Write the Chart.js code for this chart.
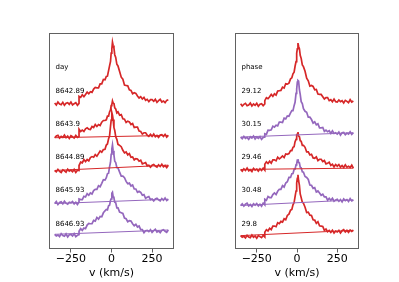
<!DOCTYPE html>
<html>
<head>
<meta charset="utf-8">
<script src="https://cdn.jsdelivr.net/npm/chart.js@4.4.1/dist/chart.umd.min.js"></script>
<style>
  html, body { margin: 0; padding: 0; background: #fff; }
  #wrap { position: relative; width: 399px; height: 282px; overflow: hidden; }
  .panel { position: absolute; top: 0; height: 282px; }
</style>
</head>
<body>
<div id="wrap">
  <div class="panel" style="left:0;width:200px"><canvas id="dayChart"></canvas></div>
  <div class="panel" style="left:200px;width:199px"><canvas id="phaseChart"></canvas></div>
</div>
<script>
// velocity grids (km/s): blue continuum piece, then the line region
const vCont = [-350,-340,-330,-320,-310,-300,-290,-280,-270,-260,-250,-240,-230,-220,-210,-200];
const vProf = [-200,-190,-180,-170,-160,-150,-140,-130,-120,-110,-100,-90,-80,-70,-60,-50,-40,
  -32,-25,-18,-12,-6,-2,2,6,10,15,20,26,33,40,
  50,60,70,80,90,100,110,120,130,140,150,160,170,180,190,200,210,220,230,240,250,260,270,280,290,300,310,320,330,340,350];

const offsets = [0, -1, -2, -3, -4];
const xTicks = [-250, 0, 250];
// top spectrum of each panel has no wrap-around segment
const hasWrap = [false, true, true, true, true];

// left panel, labelled by day
const dayLabels = ['8642.89', '8643.9', '8644.89', '8645.93', '8646.93'];
const dayColors = ['#d62728', '#d62728', '#d62728', '#9467bd', '#9467bd'];
const dayProf = [
  [1.22,1.19,1.27,1.21,1.28,1.35,1.30,1.36,1.34,1.44,1.49,1.48,1.48,1.60,1.60,1.73,1.72,
   1.82,1.83,2.0,2.14,2.28,2.53,2.65,2.86,2.76,2.68,2.48,2.4,2.19,2.14,
   1.97,1.80,1.74,1.56,1.55,1.54,1.42,1.40,1.30,1.33,1.31,1.23,1.17,1.21,1.14,1.19,1.10,1.13,1.06,1.12,1.12,1.07,1.13,1.04,1.09,1.13,1.05,1.08,1.03,1.10,1.12],
  [1.23,1.16,1.2,1.16,1.24,1.27,1.23,1.22,1.31,1.28,1.37,1.31,1.37,1.34,1.44,1.49,1.49,
   1.51,1.62,1.62,1.75,1.81,1.94,1.97,2.08,2.02,2.01,1.87,1.84,1.72,1.75,
   1.65,1.67,1.54,1.53,1.43,1.47,1.45,1.37,1.40,1.28,1.29,1.29,1.17,1.16,1.08,1.12,1.12,1.05,1.01,1.07,1.01,1.08,1.0,1.04,0.98,1.05,1.06,1.01,1.07,0.99,1.04],
  [1.13,1.23,1.21,1.31,1.25,1.31,1.27,1.37,1.40,1.38,1.46,1.41,1.49,1.57,1.53,1.61,1.62,
   1.75,1.78,1.94,2.02,2.32,2.5,2.73,2.65,2.52,2.28,2.19,2.0,1.92,1.77,
   1.74,1.70,1.59,1.51,1.54,1.45,1.49,1.38,1.39,1.30,1.34,1.33,1.26,1.29,1.18,1.20,1.22,1.12,1.14,1.08,1.14,1.16,1.11,1.08,1.15,1.10,1.17,1.09,1.13,1.07,1.14],
  [1.12,1.10,1.10,1.20,1.18,1.28,1.23,1.30,1.27,1.37,1.41,1.41,1.52,1.49,1.59,1.70,1.69,
   1.76,1.88,1.90,2.09,2.23,2.47,2.63,2.75,2.58,2.45,2.26,2.22,2.07,2.06,
   1.93,1.81,1.81,1.76,1.65,1.58,1.60,1.51,1.54,1.42,1.42,1.32,1.35,1.32,1.23,1.25,1.14,1.17,1.19,1.10,1.12,1.06,1.12,1.14,1.09,1.06,1.13,1.08,1.15,1.07,1.11],
  [1.14,1.22,1.17,1.24,1.22,1.33,1.38,1.37,1.37,1.47,1.45,1.56,1.51,1.59,1.58,1.70,1.76,
   1.80,1.79,1.91,1.93,2.08,2.12,2.29,2.32,2.19,2.15,2.02,2.0,1.85,1.85,
   1.72,1.70,1.68,1.54,1.52,1.43,1.46,1.45,1.37,1.31,1.35,1.27,1.30,1.19,1.19,1.10,1.16,1.17,1.13,1.19,1.11,1.16,1.20,1.12,1.15,1.10,1.17,1.19,1.14,1.11,1.18]
];
const dayCont = [
  [1.02,0.96,1.05,0.99,0.97,1.04,0.95,1.01,1.03,0.98,1.05,0.96,1.0,1.03,0.95,1.01],
  [0.97,1.02,1.04,0.96,1.01,0.98,1.05,0.97,1.02,0.95,1.03,1.0,0.96,1.04,0.98,1.01],
  [0.98,0.94,1.01,0.95,0.92,1.0,0.97,0.93,1.02,0.96,0.99,0.94,1.01,0.92,0.99,0.98],
  [0.98,1.04,0.95,1.01,1.03,0.97,1.05,0.99,0.96,1.02,1.0,1.04,0.97,1.02,0.95,1.03],
  [1.05,1.0,1.03,0.98,1.07,1.01,0.99,1.06,0.97,1.04,1.05,1.0,1.07,0.98,1.02,1.04]
];

// right panel, labelled by phase
const phaseLabels = ['29.12', '30.15', '29.46', '30.48', '29.8'];
const phaseColors = ['#d62728', '#9467bd', '#d62728', '#9467bd', '#d62728'];
const phaseProf = [
  [1.09,1.18,1.15,1.21,1.28,1.22,1.30,1.26,1.38,1.39,1.40,1.50,1.47,1.60,1.59,1.62,1.75,
   1.78,1.9,1.95,2.13,2.27,2.52,2.66,2.83,2.73,2.66,2.46,2.37,2.17,2.12,
   1.98,1.77,1.69,1.53,1.55,1.52,1.42,1.43,1.29,1.28,1.28,1.21,1.14,1.18,1.18,1.09,1.12,1.06,1.14,1.06,1.05,1.11,1.06,1.09,1.02,1.10,1.07,1.03,1.12,1.05,1.08],
  [1.09,1.07,1.20,1.19,1.21,1.32,1.29,1.35,1.33,1.44,1.44,1.43,1.56,1.54,1.63,1.62,1.72,
   1.79,1.79,1.94,2.04,2.31,2.44,2.65,2.70,2.68,2.42,2.28,2.06,2.0,1.85,
   1.77,1.74,1.59,1.59,1.52,1.41,1.45,1.36,1.39,1.27,1.27,1.28,1.16,1.20,1.15,1.18,1.10,1.18,1.10,1.12,1.08,1.14,1.05,1.12,1.13,1.06,1.11,1.08,1.15,1.07,1.12],
  [1.17,1.24,1.19,1.26,1.20,1.30,1.30,1.27,1.38,1.33,1.37,1.42,1.37,1.48,1.47,1.49,1.58,
   1.58,1.68,1.70,1.85,1.92,2.05,2.08,2.14,2.02,2.0,1.88,1.86,1.74,1.74,
   1.68,1.54,1.54,1.45,1.47,1.36,1.35,1.39,1.28,1.32,1.32,1.25,1.28,1.18,1.20,1.23,1.13,1.17,1.09,1.16,1.11,1.16,1.08,1.13,1.07,1.15,1.08,1.11,1.07,1.14,1.05],
  [1.11,1.08,1.19,1.16,1.16,1.25,1.30,1.25,1.35,1.41,1.41,1.52,1.48,1.60,1.64,1.77,1.77,
   1.88,1.89,2.01,2.02,2.15,2.18,2.29,2.32,2.22,2.21,2.08,2.06,1.94,1.93,
   1.80,1.77,1.71,1.54,1.53,1.44,1.46,1.33,1.36,1.30,1.23,1.26,1.18,1.18,1.08,1.14,1.08,1.14,1.05,1.09,1.11,1.05,1.10,1.03,1.12,1.07,1.10,1.04,1.13,1.06,1.09],
  [1.11,1.19,1.15,1.23,1.19,1.30,1.30,1.28,1.40,1.37,1.44,1.42,1.52,1.49,1.62,1.66,1.78,
   1.80,1.94,2.01,2.19,2.36,2.6,2.74,2.85,2.67,2.53,2.27,2.16,2.02,1.99,
   1.87,1.71,1.72,1.63,1.62,1.49,1.48,1.38,1.43,1.31,1.30,1.29,1.17,1.21,1.13,1.17,1.11,1.17,1.09,1.15,1.12,1.17,1.09,1.16,1.19,1.12,1.17,1.11,1.18,1.14,1.17]
];
const phaseCont = [
  [1.0,0.93,0.98,1.01,0.94,0.96,1.02,0.93,0.99,0.95,1.01,0.92,0.98,1.0,0.94,0.99],
  [0.99,0.94,1.01,0.95,0.98,0.92,1.0,0.96,1.02,0.93,0.99,0.95,1.0,0.92,0.98,0.99],
  [1.01,0.96,1.03,0.98,1.05,0.97,1.0,0.95,1.04,0.99,1.02,0.96,1.03,0.98,1.05,0.99],
  [0.92,0.97,0.90,0.96,0.99,0.91,0.95,0.89,0.97,0.93,0.98,0.91,0.96,0.90,0.99,0.94],
  [1.01,0.96,0.99,0.94,1.02,0.97,0.95,1.03,0.96,1.0,0.93,1.01,0.98,0.95,1.02,0.97]
];

const frameColor = 'rgba(0,0,0,0.62)';

// frame around the axes + the text labels inside
const panelText = {
  id: 'panelText',
  afterDraw(chart, args, opts) {
    const ctx = chart.ctx;
    const a = chart.chartArea;
    const xs = chart.scales.x, ys = chart.scales.y;
    ctx.save();
    ctx.strokeStyle = frameColor;
    ctx.lineWidth = 1;
    ctx.strokeRect(Math.round(a.left) + 0.5, Math.round(a.top) + 0.5,
      Math.round(a.right - a.left) - 1, Math.round(a.bottom - a.top) - 1);
    ctx.fillStyle = '#000';
    ctx.font = '7px "DejaVu Sans"';
    ctx.textBaseline = 'middle';
    ctx.textAlign = 'left';
    const x0 = xs.getPixelForValue(-345);
    ctx.fillText(opts.header, x0, ys.getPixelForValue(offsets[0] + 2.09));
    opts.labels.forEach((lab, i) => {
      ctx.fillText(lab, x0, ys.getPixelForValue(offsets[i] + 1.37));
    });
    ctx.restore();
  }
};

function makeChart(id, prof, cont, colors, labels, header, pad) {
  const datasets = [];
  prof.forEach((p, i) => {
    const pts = [];
    vCont.forEach((v, j) => pts.push({x: v, y: cont[i][j] + offsets[i]}));
    vProf.forEach((v, j) => pts.push({x: v, y: p[j] + offsets[i]}));
    // the plotted array wraps from its red end back to its blue start
    if (hasWrap[i]) {
      datasets.push({
        data: [pts[pts.length - 1], pts[0]],
        borderColor: colors[i],
        borderWidth: 1,
        pointRadius: 0,
        showLine: true
      });
    }
    datasets.push({
      data: pts,
      borderColor: colors[i],
      borderWidth: 1.7,
      pointRadius: 0,
      showLine: true,
      tension: 0
    });
  });

  return new Chart(document.getElementById(id), {
    type: 'scatter',
    data: { datasets: datasets },
    options: {
      responsive: true,
      maintainAspectRatio: false,
      animation: false,
      layout: { padding: pad },
      plugins: {
        legend: { display: false },
        tooltip: { enabled: false },
        panelText: { labels: labels, header: header }
      },
      scales: {
        x: {
          type: 'linear',
          min: -385,
          max: 385,
          afterBuildTicks: s => { s.ticks = xTicks.map(v => ({value: v})); },
          afterFit: s => { s.height = 33; },
          border: { display: false },
          grid: { drawOnChartArea: false, drawTicks: true, tickLength: 3.5, color: frameColor },
          ticks: {
            padding: 0,
            maxRotation: 0,
            color: '#000',
            font: { family: 'DejaVu Sans', size: 11 },
            callback: v => v < 0 ? '\u2212' + Math.abs(v) : String(v)
          },
          title: {
            display: true,
            text: 'v (km/s)',
            color: '#000',
            font: { family: 'DejaVu Sans', size: 11 },
            padding: { top: 0, bottom: 2 }
          }
        },
        y: {
          type: 'linear',
          display: false,
          min: -3.394,
          max: 3.136
        }
      }
    },
    plugins: [panelText]
  });
}

makeChart('dayChart', dayProf, dayCont, dayColors, dayLabels, 'day', {left: 49, right: 26, top: 33, bottom: 0});
makeChart('phaseChart', phaseProf, phaseCont, phaseColors, phaseLabels, 'phase', {left: 35, right: 40, top: 33, bottom: 0});
</script>
</body>
</html>
